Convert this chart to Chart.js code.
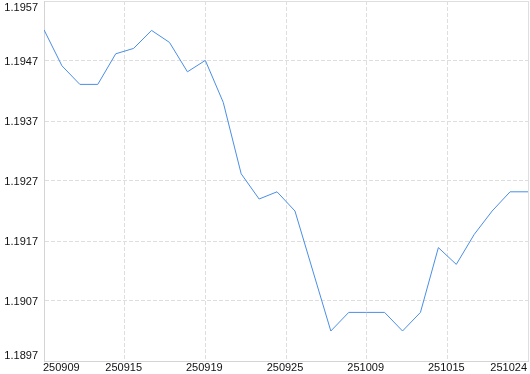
<!DOCTYPE html>
<html>
<head>
<meta charset="utf-8">
<script src="https://cdn.jsdelivr.net/npm/chart.js@4/dist/chart.umd.min.js"></script>
<style>
  html, body { margin: 0; padding: 0; background: #fff; }
  #wrap { width: 530px; height: 374px; }
</style>
</head>
<body>
<div id="wrap"><canvas id="myChart" width="530" height="374"></canvas></div>
<script>
// daily values
const values = [
  1.19522, 1.19462, 1.19431, 1.19431, 1.19482, 1.19491, 1.19521, 1.19501,
  1.19452, 1.19471, 1.19401, 1.19282, 1.19240, 1.19252, 1.19220, 1.19120,
  1.19020, 1.19051, 1.19051, 1.19051, 1.19020, 1.19051, 1.19159, 1.19131,
  1.19181, 1.19220, 1.19252, 1.19252
];
const xTickLabels = ['250909', '250915', '250919', '250925', '251009', '251015', '251024'];
const yTicks = [1.1897, 1.1907, 1.1917, 1.1927, 1.1937, 1.1947, 1.1957];

const lastIdx = values.length - 1;
const points = values.map((v, i) => ({ x: i, y: v }));

const ctx = document.getElementById('myChart');
const gridColor = '#dedede';
const axisColor = '#d4d4d4';

new Chart(ctx, {
  type: 'line',
  data: {
    datasets: [{
      data: points,
      borderColor: '#4a8ee6',
      borderWidth: 1,
      pointRadius: 0,
      tension: 0,
      fill: false
    }]
  },
  options: {
    responsive: false,
    animation: false,
    layout: { padding: { top: 1, right: 2, left: 0, bottom: 0 } },
    plugins: { legend: { display: false }, tooltip: { enabled: false } },
    scales: {
      x: {
        type: 'linear',
        min: 0,
        max: lastIdx,
        afterBuildTicks: scale => {
          const step = lastIdx / (xTickLabels.length - 1);
          scale.ticks = xTickLabels.map((_, i) => ({ value: i * step }));
        },
        afterFit: scale => {
          scale.height = 13;
          scale.paddingLeft = 0;
          scale.paddingRight = 0;
        },
        ticks: {
          autoSkip: false,
          maxRotation: 0,
          align: 'inner',
          padding: 0,
          labelOffset: -1,
          color: '#111',
          font: { family: 'Liberation Sans', size: 11, lineHeight: 13 / 11 },
          callback: (value, index) => xTickLabels[index]
        },
        grid: {
          color: gridColor,
          drawTicks: false
        },
        border: {
          color: axisColor,
          dash: c => (c.index === xTickLabels.length - 1 ? [] : [4, 2])
        }
      },
      y: {
        min: yTicks[0],
        max: yTicks[yTicks.length - 1],
        afterBuildTicks: scale => {
          scale.ticks = yTicks.map(v => ({ value: v }));
        },
        afterFit: scale => {
          scale.width = 44;
          scale.paddingTop = 0;
          scale.paddingBottom = 0;
        },
        ticks: {
          padding: 6,
          labelOffset: 1,
          color: '#111',
          font: { family: 'Liberation Sans', size: 11, lineHeight: 12 / 11 },
          callback: (value, index) => {
            const label = yTicks[index].toFixed(4);
            if (index === yTicks.length - 1) return ['', label];
            if (index === 0) return [label, ''];
            return label;
          }
        },
        grid: {
          color: gridColor,
          drawTicks: false
        },
        border: {
          color: axisColor,
          dash: c => (c.index === yTicks.length - 1 ? [] : [4, 2])
        }
      }
    }
  }
});
</script>
</body>
</html>
